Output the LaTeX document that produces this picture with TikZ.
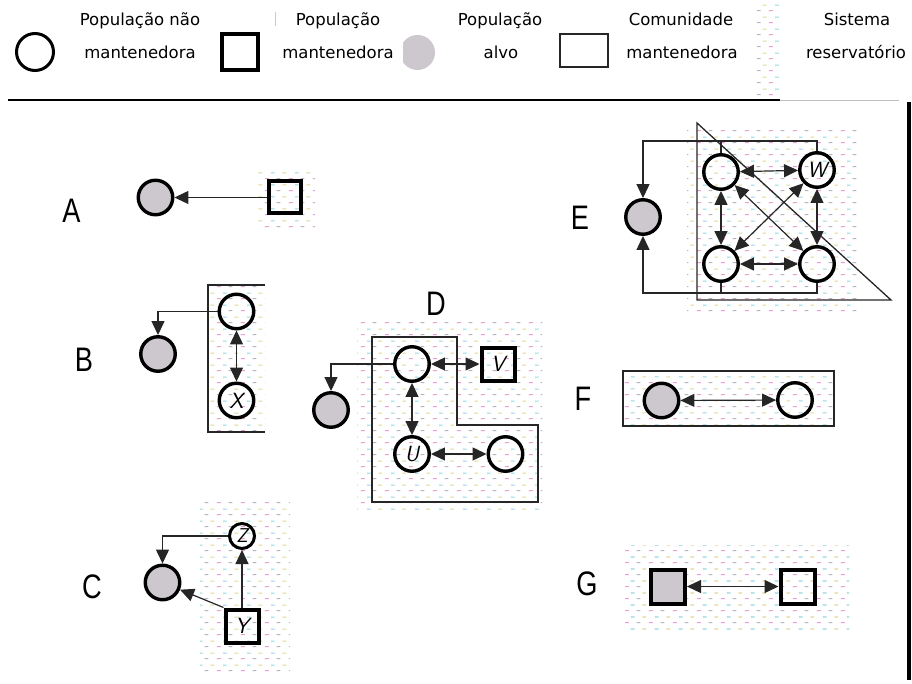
\documentclass[tikz,border=0pt]{standalone}
\usepackage{fontspec}
\setmainfont{DejaVu Sans}
\newfontfamily\letfont[FakeStretch=0.8]{Liberation Sans}
\usetikzlibrary{arrows.meta,patterns.meta}
\definecolor{tgt}{RGB}{204,200,206}
\definecolor{dpink}{RGB}{235,160,210}
\definecolor{dcyan}{RGB}{150,215,225}
\definecolor{dgray}{RGB}{180,180,190}
\definecolor{dyel}{RGB}{225,215,150}
\tikzdeclarepattern{
  name=resv, type=colored,
  bounding box={(0pt,0pt) and (24pt,12pt)},
  tile size={(24pt,12pt)},
  code={
    \draw[line width=1.1pt,dpink] (1pt,1.5pt) -- (5pt,1.5pt);
    \draw[line width=1.1pt,dgray] (13pt,1.5pt) -- (17pt,1.5pt);
    \draw[line width=1.1pt,dcyan] (7pt,7.5pt) -- (11pt,7.5pt);
    \draw[line width=1.1pt,dyel] (19pt,7.5pt) -- (23pt,7.5pt);
  }
}
\tikzset{
 np/.style={circle,draw,line width=3.4pt,minimum size=34.5pt,inner sep=0pt},
 tp/.style={np,fill=tgt},
 mp/.style={rectangle,draw,line width=4pt,minimum size=33pt,inner sep=0pt},
 con/.style={line width=1.2pt,draw=black!85},
 arr/.style={con,-{Triangle[length=14pt,width=13pt]}},
 darr/.style={con,{Triangle[length=14pt,width=13pt]}-{Triangle[length=14pt,width=13pt]}},
 res/.style={pattern=resv},
 comm/.style={draw=black!85,line width=1.5pt},
 panel/.style={font=\letfont\fontsize{34}{34}\selectfont,inner sep=0pt},
 lgd/.style={font=\fontsize{16.5}{16.5}\selectfont,anchor=base,inner sep=0pt},
 lbl/.style={font=\sffamily\itshape\fontsize{22}{22}\selectfont}
}
\begin{document}
\begin{tikzpicture}[x=1pt,y=-1pt]
\useasboundingbox (0,0) rectangle (912,684);
% ---------- legend ----------
\node[np,line width=3pt,minimum size=37pt] (l1) at (35,52) {};
\node[lgd] (l1a) at (140,26) {População não};
\node[lgd] (l1b) at (140,59) {mantenedora};
\node[mp,minimum size=36pt] (l2) at (240,52) {};
\draw[gray!40,line width=0.8pt] (275,12) -- (275,26);
\node[lgd] (l2a) at (338,26) {População};
\node[lgd] (l2b) at (338,59) {mantenedora};
\begin{scope}
\clip (403,30) rectangle (440,75);
\fill[tgt] (417.5,52.5) circle (17.5);
\end{scope}
\node[lgd] (l3a) at (500,26) {População};
\node[lgd] (l3b) at (501,59) {alvo};
\node[draw=black!85,line width=1.5pt,minimum width=48pt,minimum height=33pt,inner sep=0pt] (l4) at (584,50.5) {};
\node[lgd] (l4a) at (681,26) {Comunidade};
\node[lgd] (l4b) at (682,59) {mantenedora};
\fill[res] (757,3) rectangle (780,100);
\node[lgd] (l5a) at (857,26) {Sistema};
\node[lgd] (l5b) at (856,59) {reservatório};
\draw[line width=1.5pt] (8,100) -- (780,100);
\draw[gray!50,line width=1pt] (780,101) -- (899,101);
\draw[line width=4pt] (908.5,102) -- (908.5,680);
% ---------- A ----------
\node[panel] (la) at (71.5,211) {A};
\fill[res] (257,173) rectangle (315,228);
\node[tp] (ag) at (155.5,197.5) {};
\node[mp,minimum size=32pt] (as) at (285,197.5) {};
\draw[arr] (as) -- (ag);
% ---------- B ----------
\node[panel] (lb) at (84,359.5) {B};
\fill[res] (208,285) rectangle (265,432);
\draw[comm,line width=2pt] (265,285) -- (208,285) -- (208,432) -- (265,432);
\node[np] (b1) at (236.5,311.5) {};
\node[np,lbl] (b2) at (236.5,400.5) {X};
\node[tp] (bg) at (158,354) {};
\draw[arr] (b1.west) -| (bg.north);
\draw[darr] (b1) -- (b2);
% ---------- C ----------
\node[panel] (lc) at (92,587) {C};
\fill[res] (200,502) rectangle (290,675);
\node[tp] (cg) at (162.5,582.5) {};
\node[np,line width=3pt,minimum size=25pt,lbl,font=\sffamily\itshape\fontsize{20}{20}\selectfont] (cz) at (242,536) {Z};
\node[mp,lbl] (cy) at (242,626) {Y};
\draw[arr] (cz.west) -| (cg.north);
\draw[arr] (cy) -- (cz);
\draw[arr] (cy.north west) -- (cg);
% ---------- D ----------
\node[panel] (ld) at (436,304) {D};
\fill[res] (357,322) rectangle (542,511);
\draw[comm] (372,337) -- (457,337) -- (457,425) -- (538,425) -- (538,502) -- (372,502) -- cycle;
\node[np] (d1) at (412,364) {};
\node[mp,lbl] (dv) at (498,364) {V};
\node[tp] (dg) at (331,410) {};
\node[np,lbl] (du) at (412,454) {U};
\node[np] (dr) at (505.5,454) {};
\draw[arr] (d1.west) -| (dg.north);
\draw[darr] (d1) -- (dv);
\draw[darr] (d1) -- (du);
\draw[darr] (du) -- (dr);
% ---------- E ----------
\node[panel] (le) at (580,218) {E};
\fill[res] (687,130) rectangle (857,313);
\draw[comm,line width=1.3pt] (697,123) -- (697,300) -- (891,300) -- cycle;
\node[tp] (eg) at (643,217) {};
\node[np] (ea) at (721,172) {};
\node[np,lbl] (ew) at (817,170) {W};
\node[np] (ec) at (721,264) {};
\node[np] (ed) at (817,264) {};
\coordinate (etop) at (643,141);
\coordinate (ebot) at (643,293);
\draw[arr] (ew.north) |- (etop) -- (eg.north);
\draw[con] (ea.north) -- (ea.north |- etop);
\draw[arr] (ed.south) |- (ebot) -- (eg.south);
\draw[con] (ec.south) -- (ec.south |- ebot);
\draw[darr] (ea) -- (ew);
\draw[darr] (ea) -- (ec);
\draw[darr] (ew) -- (ed);
\draw[darr] (ec) -- (ed);
\draw[darr] (ea) -- (ed);
\draw[darr] (ew) -- (ec);
% ---------- F ----------
\node[panel] (lf) at (583,398.5) {F};
\fill[res] (623,371) rectangle (834,426);
\draw[comm] (623,371) rectangle (834,426);
\node[tp] (fg) at (661.5,400.5) {};
\node[np] (fw) at (795,400) {};
\draw[darr] (fg) -- (fw);
% ---------- G ----------
\node[panel] (lg) at (587,584) {G};
\fill[res] (625,545) rectangle (849,632);
\node[mp,fill=tgt,minimum size=34pt] (gg) at (668,586.5) {};
\node[mp,minimum size=34pt] (gw) at (797.5,586.5) {};
\draw[darr] (gg) -- (gw);
\end{tikzpicture}
\end{document}
